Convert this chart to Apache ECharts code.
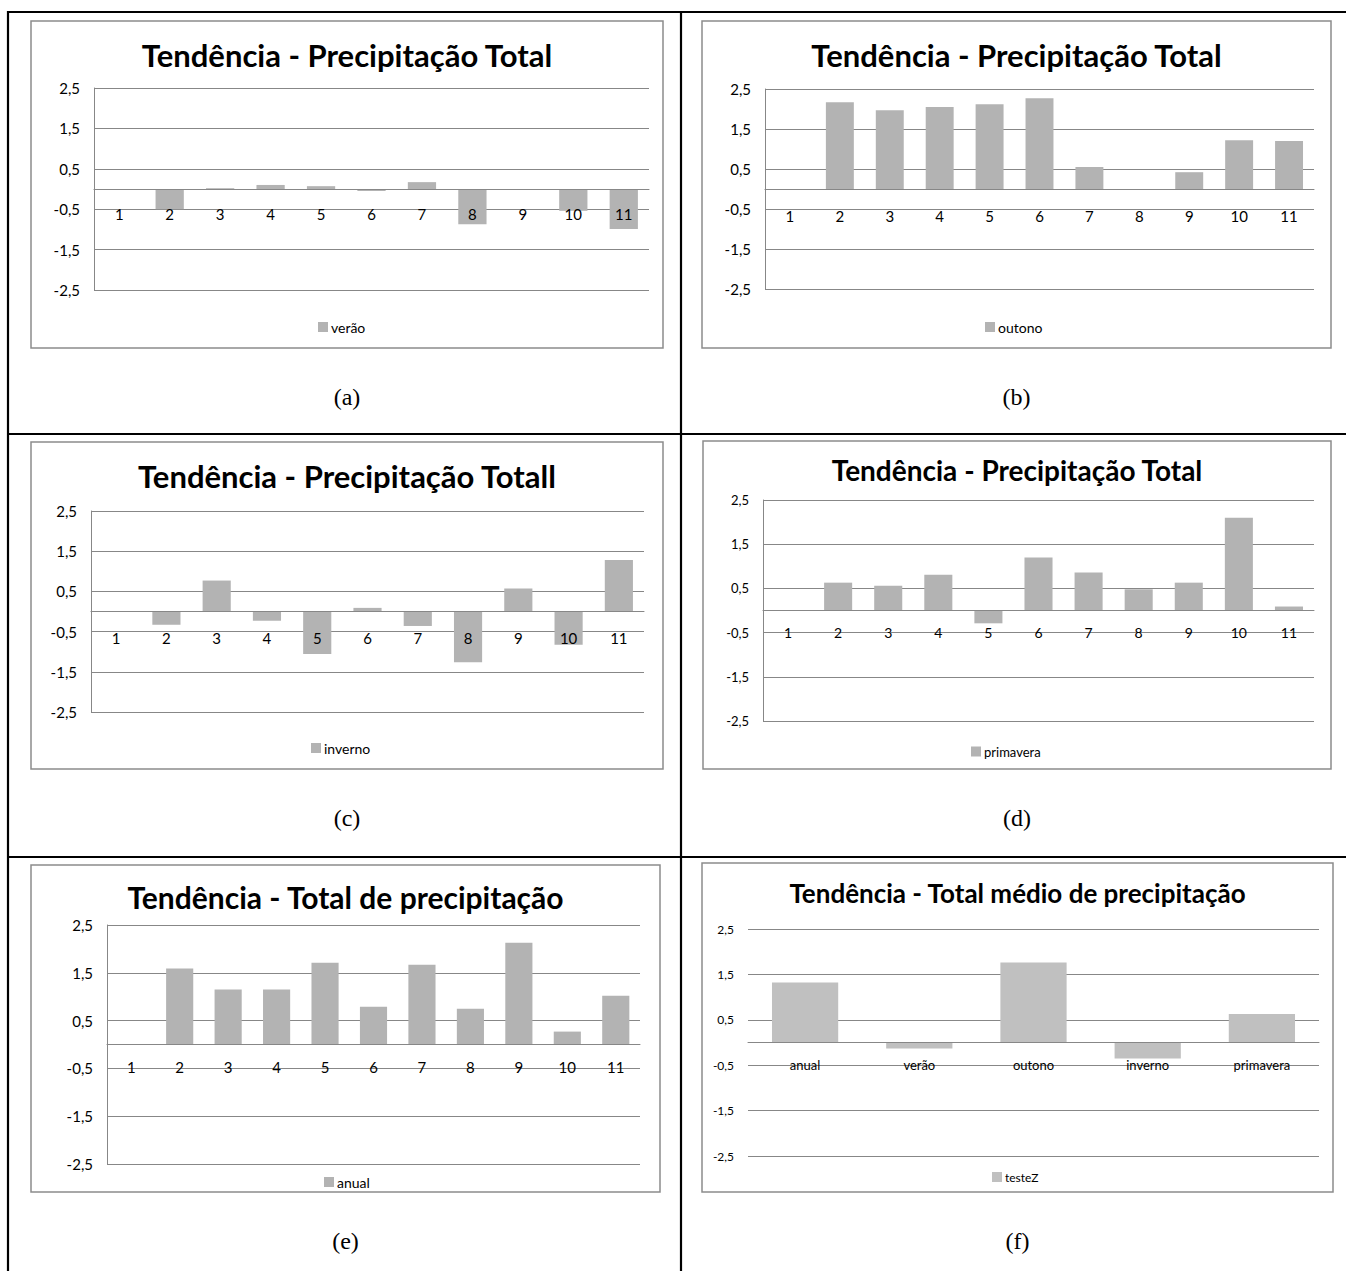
<!DOCTYPE html>
<html>
<head>
<meta charset="utf-8">
<script src="https://cdn.jsdelivr.net/npm/echarts@6/dist/echarts.min.js"></script>
<style>
html,body{margin:0;padding:0;background:#fff;}
#c{width:1346px;height:1271px;}
</style>
</head>
<body>
<div id="c"></div>
<script>
// ---------- data ----------
const stationCats = ['1','2','3','4','5','6','7','8','9','10','11'];
const seasonCats  = ['anual','verão','outono','inverno','primavera'];
const verao     = [0, -0.50, 0.02, 0.10, 0.07, -0.05, 0.17, -0.87, 0, -0.54, -0.99];
const outono    = [0, 2.17, 1.97, 2.05, 2.12, 2.27, 0.55, 0, 0.42, 1.22, 1.20];
const inverno   = [0, -0.33, 0.77, -0.23, -1.06, 0.09, -0.36, -1.26, 0.57, -0.83, 1.28];
const primavera = [0, 0.63, 0.56, 0.81, -0.29, 1.20, 0.86, 0.48, 0.63, 2.10, 0.09];
const anual     = [0, 1.59, 1.15, 1.15, 1.71, 0.79, 1.67, 0.75, 2.13, 0.27, 1.02];
const testeZ    = [1.32, -0.13, 1.76, -0.35, 0.63];
const yMin = -2.5, yMax = 2.5, yStep = 1;
const titles = ['Tendência - Precipitação Total','Tendência - Precipitação Total','Tendência - Precipitação Totall','Tendência - Precipitação Total','Tendência - Total de precipitação','Tendência - Total médio de precipitação'];
const seriesNames = ['verão','outono','inverno','primavera','anual','testeZ'];
const tags = ['(a)','(b)','(c)','(d)','(e)','(f)'];

// ---------- layout ----------
const SANS = 'Lato, "Open Sans", sans-serif';
const SERIF = '"Liberation Serif", "DejaVu Serif", serif';
const panels = [
  {cats:stationCats, data:verao,     box:[31,21,663,348],  grid:[94,88,555,202],  tY:55,  tS:31, lgX:318, lgY:327, tagY:397, xC:215, lab:15, yLab:15, yLine:true,  color:'#b3b3b3', gap:'44%'},
  {cats:stationCats, data:outono,    box:[702,21,1331,348],grid:[765,89,549,200], tY:55,  tS:31, lgX:985, lgY:327, tagY:397, xC:217, lab:15, yLab:15, yLine:true,  color:'#b3b3b3', gap:'44%'},
  {cats:stationCats, data:inverno,   box:[31,442,663,769], grid:[91,511,553,201], tY:476, tS:31, lgX:311, lgY:748, tagY:818, xC:639, lab:15, yLab:15, yLine:true,  color:'#b3b3b3', gap:'44%'},
  {cats:stationCats, data:primavera, box:[703,441,1331,769],grid:[763,500,551,221],tY:470, tS:28, lgX:971, lgY:752, tagY:818, xC:633, lab:14, yLab:13, yLine:true,  color:'#b3b3b3', gap:'44%'},
  {cats:stationCats, data:anual,     box:[31,865,660,1192],grid:[107,925,533,239],tY:897, tS:30, lgX:324, lgY:1182,tagY:1241,xC:1068,lab:15, yLab:15, yLine:true,  color:'#b3b3b3', gap:'44%'},
  {cats:seasonCats,  data:testeZ,    box:[702,863,1333,1192],grid:[748,929,571,227],tY:893, tS:26, lgX:992, lgY:1178,tagY:1241,xC:1066,lab:13, yLab:12, yLine:false, color:'#c0c0c0', gap:'42%'}
];

const GRID = '#878787';
const option = {animation:false, title:[], legend:[], grid:[], xAxis:[], yAxis:[], series:[], graphic:[]};

panels.forEach((p,i)=>{
  const [bx0,by0,bx1,by1] = p.box;
  const cx = (bx0+bx1)/2;
  const gBottom = p.grid[1] + p.grid[3];
  option.graphic.push({type:'rect', shape:{x:bx0,y:by0,width:bx1-bx0,height:by1-by0}, style:{fill:'none', stroke:'#8c8c8c', lineWidth:1.5}, z:-1});
  option.graphic.push({type:'text', x:cx, y:p.tagY, style:{text:tags[i], font:'24px '+SERIF, fill:'#000', align:'center', verticalAlign:'middle'}});
  option.title.push({text:titles[i], left:cx, top:p.tY - p.tS*0.51, textAlign:'center', padding:0,
    textStyle:{fontFamily:SANS, fontWeight:'bold', fontSize:p.tS, color:'#000'}});
  option.legend.push({data:[seriesNames[i]], left:p.lgX, top:p.lgY-7, icon:'rect', itemWidth:10, itemHeight:10, itemGap:4, padding:0, selectedMode:false,
    textStyle:{fontFamily:SANS, fontSize:p.lab-1, color:'#000', padding:[0,0,0,-2]}});
  option.grid.push({left:p.grid[0], top:p.grid[1], width:p.grid[2], height:p.grid[3]});
  option.xAxis.push({type:'category', gridIndex:i, data:p.cats, z:5,
    axisLine:{onZero:true, lineStyle:{color:GRID, width:1}}, axisTick:{show:false},
    axisLabel:{margin:Math.round(p.xC - p.lab*0.6 - gBottom), fontFamily:SANS, fontSize:p.lab, color:'#000', interval:0}});
  option.yAxis.push({type:'value', gridIndex:i, min:yMin, max:yMax, interval:yStep,
    axisLine:{show:p.yLine, lineStyle:{color:GRID, width:1}}, axisTick:{show:false},
    splitLine:{show:true, lineStyle:{color:GRID, width:1}},
    axisLabel:{margin:14, fontFamily:SANS, fontSize:p.yLab, color:'#000', formatter:v=>v.toFixed(1).replace('.',',')}});
  option.series.push({type:'bar', name:seriesNames[i], xAxisIndex:i, yAxisIndex:i, data:p.data, z:2,
    barCategoryGap:p.gap, itemStyle:{color:p.color}});
});

// table borders
const L = (x1,y1,x2,y2)=>({type:'line', shape:{x1,y1,x2,y2}, style:{stroke:'#000', lineWidth:2.2}});
option.graphic.push(L(8,12,1346,12), L(8,11,8,1271), L(681,11,681,1271), L(8,434,1346,434), L(8,857,1346,857));

const chart = echarts.init(document.getElementById('c'), null, {renderer:'svg'});
chart.setOption(option);
</script>
</body>
</html>
